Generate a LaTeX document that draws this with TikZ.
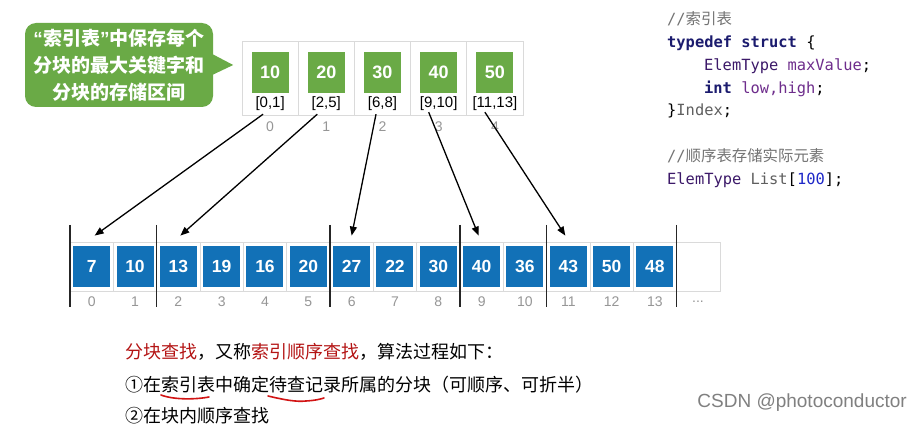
\documentclass[tikz,border=0pt]{standalone}
\usepackage{fontspec}
\setmainfont{Liberation Sans}
\newfontfamily\cjk{Noto Sans CJK SC}
\newfontfamily\lat{Liberation Sans}
\newfontfamily\mono{DejaVu Sans Mono}
\usetikzlibrary{calc,arrows.meta}
\definecolor{gfill}{RGB}{106,170,70}
\definecolor{bfill}{RGB}{18,113,183}
\definecolor{cellline}{RGB}{218,218,218}
\definecolor{idxgray}{RGB}{150,150,150}
\definecolor{kwc}{RGB}{27,27,110}
\definecolor{tyc}{RGB}{60,25,105}
\definecolor{idc}{RGB}{110,45,140}
\definecolor{cmc}{RGB}{115,115,115}
\definecolor{grc}{RGB}{95,95,95}
\definecolor{nmc}{RGB}{30,40,200}
\definecolor{redt}{RGB}{180,20,20}
\definecolor{uline}{RGB}{210,20,20}
\begin{document}
\begin{tikzpicture}[x=1pt,y=-1pt,
  cellg/.style={draw=cellline, line width=0.8pt, minimum width=56.2pt, minimum height=74pt, inner sep=0pt},
  cella/.style={draw=cellline, line width=0.8pt, minimum width=43.33pt, minimum height=49pt, inner sep=0pt},
  gsq/.style={fill=gfill, minimum width=37pt, minimum height=41pt, inner sep=0pt, text=white, font=\fontsize{18}{20}\selectfont\bfseries},
  bsq/.style={fill=bfill, minimum width=37pt, minimum height=41pt, inner sep=0pt, text=white, font=\fontsize{17.5}{20}\selectfont\bfseries},
  lab/.style={inner sep=0pt, font=\fontsize{15}{17}\selectfont},
  idx/.style={inner sep=0pt, text=idxgray, font=\fontsize{14}{16}\selectfont},
  sepline/.style={draw=black!85, line width=1.4pt},
  arr/.style={draw=black, line width=1.3pt, -{Triangle[length=9pt,width=7pt]}},
  code/.style={anchor=west, inner sep=0pt, font=\mono\fontsize{15.4}{18}\selectfont},
  txt/.style={anchor=west, inner sep=0pt, font=\cjk\fontsize{18}{20}\selectfont},
  bubble/.style={fill=gfill, rounded corners=11pt, minimum width=188pt, minimum height=84pt, inner sep=0pt, text=white, align=center, font=\cjk\bfseries\fontsize{19}{27}\selectfont}
]
\useasboundingbox (0,0) rectangle (922,425);
\fill[white] (0,0) rectangle (922,425);

% speech bubble
\node[bubble] (bub) at (119,65) {{\lat “}索引表{\lat ”}中保存每个\\分块的最大关键字和\\分块的存储区间};
\fill[gfill] ($(bub.east)+(-1,-11)$) -- ($(bub.east)+(20,0)$) -- ($(bub.east)+(-1,10)$) -- cycle;

% index table
\foreach \v [count=\i from 0] in {10,20,30,40,50} {
  \node[cellg] (t\i) at ({270.1+56.2*\i},78) {};
  \node[gsq] (g\i) at ({270.1+56.2*\i},72.5) {\v};
  \node[idx] (ti\i) at ({270.1+56.2*\i},127) {\i};
}
\node[lab] (l0) at (270.1,104) {[0,1]};
\node[lab] (l1) at (326.3,104) {[2,5]};
\node[lab] (l2) at (382.5,104) {[6,8]};
\node[lab] (l3) at (438.7,104) {[9,10]};
\node[lab] (l4) at (494.9,104) {[11,13]};

% array
\foreach \v [count=\i from 0] in {7,10,13,19,16,20,27,22,30,40,36,43,50,48} {
  \node[cella] (c\i) at ({91.67+43.33*\i},266.5) {};
  \node[bsq] (b\i) at (c\i) {\v};
  \node[idx] (n\i) at ({91.67+43.33*\i},302) {\i};
}
\node[cella] (c14) at ({91.67+43.33*14},266.5) {};
\node[idx] (dots) at (698,302) {...};
\foreach \k in {0,2,6,9,11,14} {
  \draw[sepline] ({70+43.33*\k},225) -- ({70+43.33*\k},307);
}

% arrows
\draw[arr] ($(l0.south)+(-7,3)$) -- ($(c0.north)+(3,-6)$);
\draw[arr] ($(l1.south)+(-9,3)$) -- ($(c2.north)+(2,-6)$);
\draw[arr] ($(l2.south)+(-6.5,3)$) -- ($(c6.north)+(0,-6)$);
\draw[arr] ($(l3.south)+(-10,1)$) -- ($(c9.north)+(-3,-6)$);
\draw[arr] ($(l4.south)+(-10,1)$) -- ($(c11.north)+(-3,-6)$);

% code
\node[code, text=cmc] (k1) at (667,21) {\strut//{\cjk 索引表}};
\node[code] (k2) at (667,44) {\strut\textcolor{kwc}{\bfseries typedef struct} \{};
\node[code] (k3) at (704,67) {\strut\textcolor{tyc}{ElemType} \textcolor{idc}{maxValue};};
\node[code] (k4) at (704,90) {\strut\textcolor{kwc}{\bfseries int} \textcolor{idc}{low,high};};
\node[code] (k5) at (667,112) {\strut\}\textcolor{grc}{Index};};
\node[code, text=cmc] (k6) at (667,158) {\strut//{\cjk 顺序表存储实际元素}};
\node[code] (k7) at (667,181) {\strut\textcolor{tyc}{ElemType} \textcolor{grc}{List}[\textcolor{nmc}{100}];};

% bottom text
\node[txt] (p1) at (125,352) {\textcolor{redt}{分块查找}，又称\textcolor{redt}{索引顺序查找}，算法过程如下：};
\node[txt] (p2) at (125,385) {①在索引表中确定待查记录所属的分块（可顺序、可折半）};
\node[txt] (p3) at (125,416) {②在块内顺序查找};
\draw[uline, line width=1.6pt, line cap=round] (161,395) .. controls (174,400) and (196,399.5) .. (209,397);
\draw[uline, line width=1.6pt, line cap=round] (268,396) .. controls (285,400) and (296,402) .. (306,401) .. controls (315,400.5) and (321,399) .. (324,398);

% watermark
\node[anchor=east, inner sep=0pt, text=black!50, font=\fontsize{19}{21}\selectfont] (wm) at (907,403) {CSDN @photoconductor};
\end{tikzpicture}
\end{document}
